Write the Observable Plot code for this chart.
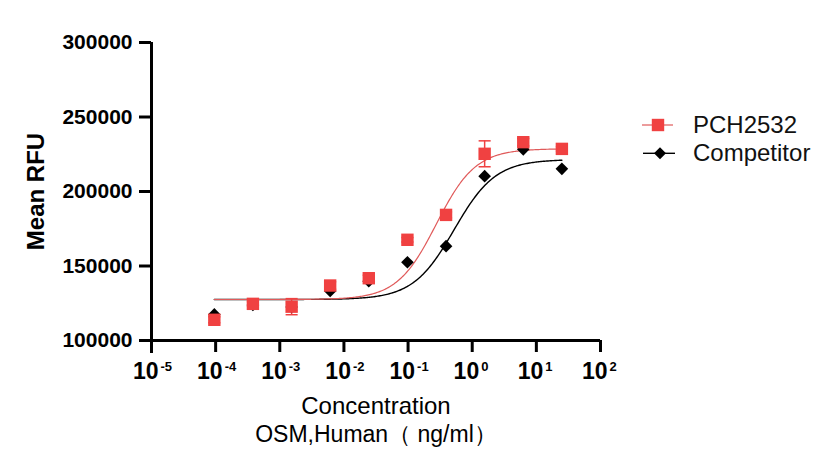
<!DOCTYPE html>
<html><head><meta charset="utf-8">
<script src="https://cdn.jsdelivr.net/npm/d3@7"></script>
<script src="https://cdn.jsdelivr.net/npm/@observablehq/plot@0.6"></script>
<style>
html,body{margin:0;padding:0;background:#fff;}
#wrap{position:relative;width:835px;height:472px;font-family:"Liberation Sans",Arial,sans-serif;}
#legend{position:absolute;left:630px;top:100px;}
</style></head><body><div id="wrap"></div>
<script>
// Concentrations (ng/ml), 4-fold serial dilution
const concentration = [0.0000954, 0.000381, 0.00153, 0.0061, 0.0244, 0.0977, 0.391, 1.5625, 6.25, 25];
// PCH2532 mean RFU and SD
const pchMean = [113900, 124600, 122700, 136900, 141800, 167600, 184300, 225300, 233100, 228600];
const pchSD   = [2000, 1500, 5400, 2500, 2000, 1500, 2000, 8700, 2500, 1500];
// Competitor mean RFU
const compMean = [117500, 123800, 122500, 133300, 139800, 152500, 163300, 210300, 228300, 215200];
// 4-parameter logistic fit parameters [PCH2532, Competitor]
const seriesNames = ["PCH2532", "Competitor"];
const fitBottom = [127500, 127500];
const fitTop = [228700, 221500];
const fitLogEC50 = [-0.56, -0.28];
const fitHill = [1.42, 1.35];
// Axis ticks
const xTicks = [1e-5, 1e-4, 1e-3, 1e-2, 1e-1, 1e0, 1e1, 1e2];
const yTicks = [100000, 150000, 200000, 250000, 300000];

const colors = ["#F04141", "#000000"];
const curveColors = ["#E05A5A", "#000000"];

const pchData = concentration.map((c, i) => ({c, mean: pchMean[i], sd: pchSD[i]}));
const compData = concentration.map((c, i) => ({c, mean: compMean[i]}));

const lx0 = Math.log10(concentration[0]), lx1 = Math.log10(concentration[concentration.length - 1]);
const curves = seriesNames.flatMap((name, s) =>
  d3.range(0, 301).map(k => {
    const lx = lx0 + (lx1 - lx0) * k / 300;
    return {name, c: Math.pow(10, lx),
      v: fitBottom[s] + (fitTop[s] - fitBottom[s]) / (1 + Math.pow(10, (fitLogEC50[s] - lx) * fitHill[s]))};
  }));

const capSymbol = {draw(ctx, size) { const w = Math.sqrt(size); ctx.moveTo(-w / 2, 0); ctx.lineTo(w / 2, 0); }};
const ff = "Liberation Sans, Arial, sans-serif";

const chart = Plot.plot({
  width: 835, height: 472,
  marginLeft: 151, marginRight: 235, marginTop: 42, marginBottom: 132,
  style: {fontFamily: ff, color: "#000", background: "#fff"},
  x: {type: "log", domain: [1e-5, 1e2]},
  y: {domain: [100000, 300000]},
  marks: [
    Plot.axisY({ticks: yTicks, tickSize: 12, tickPadding: 7, strokeWidth: 3, fontSize: 21, fontWeight: "bold", label: null, tickFormat: d => String(d)}),
    Plot.axisX({ticks: xTicks, tickSize: 12, strokeWidth: 3, tickFormat: () => "", label: null}),
    Plot.ruleY([100000], {strokeWidth: 3}),
    Plot.ruleX([1e-5], {strokeWidth: 3, insetBottom: -13}),
    Plot.text(xTicks, {x: d => d, frameAnchor: "bottom", text: () => "10", fontSize: 23, fontWeight: "bold", textAnchor: "end", lineAnchor: "bottom", dx: 7, dy: 38}),
    Plot.text(xTicks, {x: d => d, frameAnchor: "bottom", text: d => String(Math.round(Math.log10(d))), fontSize: 13, fontWeight: "bold", textAnchor: "start", lineAnchor: "bottom", dx: 9, dy: 30}),
    Plot.text(["Concentration"], {frameAnchor: "bottom", text: d => d, fontSize: 24, textAnchor: "middle", lineAnchor: "bottom", dy: 73}),
    Plot.text(["OSM,Human（ ng/ml）"], {frameAnchor: "bottom", text: d => d, fontSize: 23, textAnchor: "middle", lineAnchor: "bottom", dy: 101}),
    Plot.text(["Mean RFU"], {frameAnchor: "left", text: d => d, fontSize: 24, fontWeight: "bold", rotate: -90, textAnchor: "middle", lineAnchor: "middle", dx: -115}),
    Plot.line(curves.filter(d => d.name === "Competitor"), {x: "c", y: "v", stroke: curveColors[1], strokeWidth: 1.4}),
    Plot.line(curves.filter(d => d.name === "PCH2532"), {x: "c", y: "v", stroke: curveColors[0], strokeWidth: 1.2}),
    Plot.ruleX(pchData, {x: "c", y1: d => d.mean - d.sd, y2: d => d.mean + d.sd, stroke: colors[0], strokeWidth: 1.5}),
    Plot.dot(pchData, {x: "c", y: d => d.mean - d.sd, symbol: capSymbol, r: 6.8, stroke: colors[0], strokeWidth: 1.5}),
    Plot.dot(pchData, {x: "c", y: d => d.mean + d.sd, symbol: capSymbol, r: 6.8, stroke: colors[0], strokeWidth: 1.5}),
    Plot.dot(compData, {x: "c", y: "mean", symbol: "diamond2", r: 5.7, fill: colors[1], stroke: "none"}),
    Plot.dot(pchData, {x: "c", y: "mean", symbol: "square", r: 7, fill: colors[0], stroke: "none"})
  ]
});
const wrap = document.getElementById("wrap");
wrap.appendChild(chart);

// Legend
const ns = "http://www.w3.org/2000/svg";
const lg = document.createElementNS(ns, "svg");
lg.setAttribute("id", "legend");
lg.setAttribute("width", 205); lg.setAttribute("height", 80);
const rows = [{y: 25, x1: 12, x2: 43, cx: 28}, {y: 53.3, x1: 13, x2: 45, cx: 30}];
seriesNames.forEach((name, s) => {
  const r = rows[s];
  const line = document.createElementNS(ns, "line");
  line.setAttribute("x1", r.x1); line.setAttribute("x2", r.x2);
  line.setAttribute("y1", r.y); line.setAttribute("y2", r.y);
  line.setAttribute("stroke", curveColors[s]); line.setAttribute("stroke-width", s === 0 ? 1.2 : 1.4);
  lg.appendChild(line);
  const p = document.createElementNS(ns, "path");
  if (s === 0) p.setAttribute("d", `M${r.cx - 6.2},${r.y - 6.2}h12.4v12.4h-12.4z`);
  else p.setAttribute("d", `M${r.cx},${r.y - 6}l6,6l-6,6l-6,-6z`);
  p.setAttribute("fill", colors[s]);
  lg.appendChild(p);
  const t = document.createElementNS(ns, "text");
  t.setAttribute("x", 63); t.setAttribute("y", r.y + 8);
  t.setAttribute("font-size", 24); t.setAttribute("font-family", ff); t.setAttribute("fill", "#111");
  t.textContent = name;
  lg.appendChild(t);
});
wrap.appendChild(lg);
</script></body></html>
